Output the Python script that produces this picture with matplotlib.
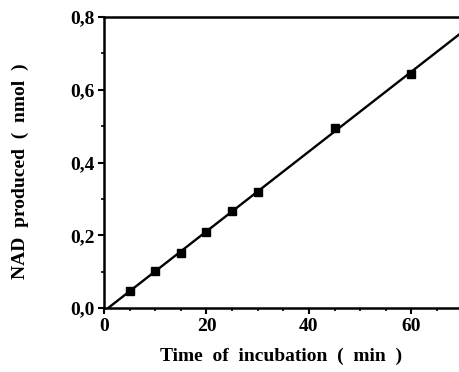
import numpy as np
import matplotlib.pyplot as plt
from matplotlib.ticker import MultipleLocator, FixedLocator, FixedFormatter

# data
time_min = [5, 10, 15, 20, 25, 30, 45, 60]
nad_nmol = [0.046, 0.102, 0.152, 0.210, 0.266, 0.320, 0.496, 0.643]

x_ticks = [0, 20, 40, 60]
x_labels = ['0', '20', '40', '60']
y_ticks = [0.0, 0.2, 0.4, 0.6, 0.8]
y_labels = ['0,0', '0,2', '0,4', '0,6', '0,8']

plt.rcParams['font.family'] = ['Liberation Serif', 'DejaVu Serif']
plt.rcParams['font.weight'] = 'bold'

fig = plt.figure(figsize=(4.59, 3.72), dpi=100)
ax = fig.add_axes([0.2266, 0.172, 0.7734, 0.782])

# linear fit
slope, icpt = np.polyfit(time_min, nad_nmol, 1)
xl = np.array([-icpt / slope, 70])
ax.plot(xl, slope * xl + icpt, color='black', lw=1.7)
ax.plot(time_min, nad_nmol, 's', color='black', ms=5.5)

ax.set_xlim(0, 69.3)
ax.set_ylim(0, 0.8)
ax.xaxis.set_major_locator(FixedLocator(x_ticks))
ax.xaxis.set_major_formatter(FixedFormatter(x_labels))
ax.xaxis.set_minor_locator(MultipleLocator(5))
ax.yaxis.set_major_locator(FixedLocator(y_ticks))
ax.yaxis.set_major_formatter(FixedFormatter(y_labels))
ax.yaxis.set_minor_locator(MultipleLocator(0.1))

ax.spines['right'].set_visible(False)
for s in ['left', 'bottom', 'top']:
    ax.spines[s].set_linewidth(1.8)
ax.tick_params(which='major', length=4, width=1.5, labelsize=14, pad=3)
ax.tick_params(which='minor', length=2.5, width=1.2)
for lab in ax.get_xticklabels() + ax.get_yticklabels():
    lab.set_fontweight('bold')

ax.set_xlabel('Time  of  incubation  (  min  )', fontsize=14, fontweight='bold', labelpad=9)
ax.set_ylabel('NAD  produced  (  nmol  )', fontsize=14, fontweight='bold')
ax.yaxis.set_label_coords(-0.211, 0.47)

fig.savefig('out.png', dpi=100)
